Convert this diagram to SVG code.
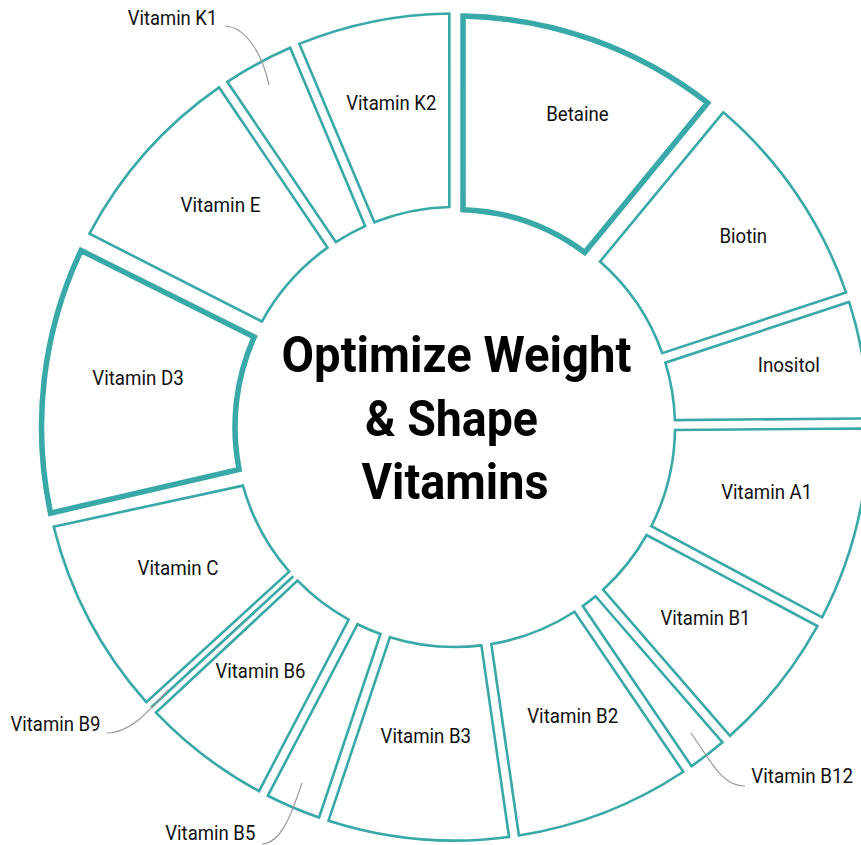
<svg xmlns="http://www.w3.org/2000/svg" width="861" height="845" viewBox="0 0 861 845">
<style>
.seg{fill:#ffffff;stroke:#38a9a8;stroke-width:2.6;stroke-linejoin:miter}
.hl{fill:#ffffff;stroke:#38a9a8;stroke-width:5.5;stroke-linejoin:miter}
.lbl{font-family:Roboto,"Liberation Sans",sans-serif;font-size:19.5px;fill:#111;text-anchor:middle}
.title{font-family:Roboto,"Liberation Sans",sans-serif;font-size:50px;font-weight:bold;fill:#000}
.call{fill:none;stroke:#999;stroke-width:1.2}
</style>
<rect width="861" height="845" fill="#ffffff"/>
<g id="node-betaine"><path class="hl" d="M463.03,16.08 A411,411 0 0 1 707.70,102.86 L584.77,252.45 A217.5,217.5 0 0 0 463.01,209.65 Z"/><text class="lbl" x="577.5" y="120.7" textLength="62.5" lengthAdjust="spacingAndGlyphs">Betaine</text></g>
<g id="node-biotin"><path class="seg" d="M723.27,112.34 A413.5,413.5 0 0 1 846.00,292.44 L662.25,353.20 A220,220 0 0 0 600.03,261.57 Z"/><text class="lbl" x="743.3" y="243.3" textLength="47.5" lengthAdjust="spacingAndGlyphs">Biotin</text></g>
<g id="node-inositol"><path class="seg" d="M849.12,301.90 A413.5,413.5 0 0 1 868.41,418.41 L674.89,420.09 A220,220 0 0 0 665.39,362.68 Z"/><text class="lbl" x="788.8" y="371.7" textLength="62" lengthAdjust="spacingAndGlyphs">Inositol</text></g>
<g id="node-a1"><path class="seg" d="M868.50,428.37 A413.5,413.5 0 0 1 822.08,617.35 L651.37,526.19 A220,220 0 0 0 674.98,430.07 Z"/><text class="lbl" x="766.7" y="499.3" textLength="91" lengthAdjust="spacingAndGlyphs">Vitamin A1</text></g>
<g id="node-b1"><path class="seg" d="M817.39,626.14 A413.5,413.5 0 0 1 730.02,735.78 L603.06,589.72 A220,220 0 0 0 646.67,535.00 Z"/><text class="lbl" x="705.5" y="625" textLength="90" lengthAdjust="spacingAndGlyphs">Vitamin B1</text></g>
<g id="node-b12"><path class="seg" d="M722.51,742.31 A413.5,413.5 0 0 1 691.53,766.17 L582.76,606.10 A220,220 0 0 0 595.53,596.27 Z"/><text class="lbl" x="802.2" y="783.3" textLength="102" lengthAdjust="spacingAndGlyphs">Vitamin B12</text></g>
<g id="node-b2"><path class="seg" d="M683.29,771.77 A413.5,413.5 0 0 1 518.90,835.53 L491.31,643.98 A220,220 0 0 0 574.50,611.72 Z"/><text class="lbl" x="572.7" y="723.3" textLength="91" lengthAdjust="spacingAndGlyphs">Vitamin B2</text></g>
<g id="node-b3"><path class="seg" d="M509.04,836.95 A413.5,413.5 0 0 1 328.52,820.69 L389.94,637.16 A220,220 0 0 0 481.43,645.41 Z"/><text class="lbl" x="425.8" y="742.7" textLength="90.5" lengthAdjust="spacingAndGlyphs">Vitamin B3</text></g>
<g id="node-b5"><path class="seg" d="M319.08,817.53 A413.5,413.5 0 0 1 267.85,795.73 L357.52,624.23 A220,220 0 0 0 380.48,633.99 Z"/><text class="lbl" x="210.3" y="840" textLength="90" lengthAdjust="spacingAndGlyphs">Vitamin B5</text></g>
<g id="node-b6"><path class="seg" d="M259.03,791.11 A413.5,413.5 0 0 1 156.00,712.63 L297.55,580.65 A220,220 0 0 0 348.68,619.60 Z"/><text class="lbl" x="260.5" y="678.3" textLength="90" lengthAdjust="spacingAndGlyphs">Vitamin B6</text></g>
<g id="node-b9"><path class="seg" stroke-width="4" d="M151.11,707.42 L293.32,576.20"/><text class="lbl" x="55.5" y="730.7" textLength="90" lengthAdjust="spacingAndGlyphs">Vitamin B9</text></g>
<g id="node-c"><path class="seg" d="M146.31,702.13 A413.5,413.5 0 0 1 53.68,526.62 L242.96,485.64 A220,220 0 0 0 289.21,571.62 Z"/><text class="lbl" x="178" y="575" textLength="81" lengthAdjust="spacingAndGlyphs">Vitamin C</text></g>
<g id="node-d3"><path class="hl" d="M50.56,513.11 A413.5,413.5 0 0 1 81.07,250.48 L254.29,336.92 A220,220 0 0 0 239.15,469.54 Z"/><text class="lbl" x="138" y="385" textLength="91.5" lengthAdjust="spacingAndGlyphs">Vitamin D3</text></g>
<g id="node-e"><path class="seg" d="M89.46,233.70 A413.5,413.5 0 0 1 219.07,87.42 L327.56,247.67 A220,220 0 0 0 261.93,321.52 Z"/><text class="lbl" x="220.5" y="211.7" textLength="80" lengthAdjust="spacingAndGlyphs">Vitamin E</text></g>
<g id="node-k1"><path class="seg" d="M227.32,81.83 A413.5,413.5 0 0 1 290.18,47.77 L365.17,226.18 A220,220 0 0 0 335.82,242.07 Z"/><text class="lbl" x="172.5" y="25" textLength="89.5" lengthAdjust="spacingAndGlyphs">Vitamin K1</text></g>
<g id="node-k2"><path class="seg" d="M299.36,43.91 A413.5,413.5 0 0 1 449.30,13.54 L449.32,207.07 A220,220 0 0 0 374.37,222.31 Z"/><text class="lbl" x="391.3" y="110" textLength="90" lengthAdjust="spacingAndGlyphs">Vitamin K2</text></g>
<g id="connectors">
<path class="call" d="M225,26 C245,27 262,52 269,85"/>
<path class="call" d="M691,733 C712,763 722,786 745,786"/>
<path class="call" d="M302,783 C292,812 282,843 262,844"/>
<path class="call" d="M168,690 C148,712 130,733 107,733"/>
</g>
<g id="node-title">
<text class="title" x="281.5" y="372" textLength="350" lengthAdjust="spacingAndGlyphs">Optimize Weight</text>
<text class="title" x="365" y="435.5" textLength="173" lengthAdjust="spacingAndGlyphs">&amp; Shape</text>
<text class="title" x="361.5" y="499" textLength="187" lengthAdjust="spacingAndGlyphs">Vitamins</text>
</g>
</svg>
